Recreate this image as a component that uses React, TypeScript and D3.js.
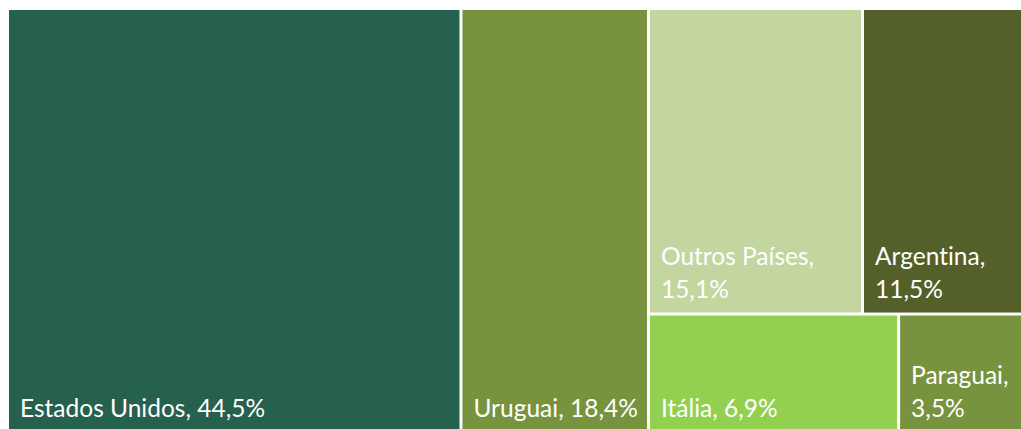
import React, { useMemo } from "react";
import * as d3 from "d3";

// ---- Data ----
const countries = ["Estados Unidos", "Uruguai", "Outros Países", "Argentina", "Itália", "Paraguai"];
const shares = [44.5, 18.4, 15.1, 11.5, 6.9, 3.5];
// Layout grouping (indices into countries): columns, the last column split into rows
const layoutGroups: number[][][] = [[[0]], [[1]], [[2, 3], [4, 5]]];

// ---- Styles ----
const palette = ["#26614E", "#78933D", "#C4D69F", "#53602A", "#92D050", "#78933D"];
const W = 1021;
const H = 429;
const OX = 9;
const OY = 10;
const TW = 1015;
const TH = 422;
const FONT = "Lato, 'Open Sans', sans-serif";
const FONT_SIZE = 24.5;
const LINE_H = 33;
const PAD_X = 11;
const PAD_B = 15;

type Node = { name?: string; idx?: number; value?: number; children?: Node[] };

function fmt(v: number) {
  return v.toFixed(1).replace(".", ",") + "%";
}

let ctx: CanvasRenderingContext2D | null = null;
function measure(t: string) {
  if (!ctx) ctx = document.createElement("canvas").getContext("2d");
  if (!ctx) return t.length * FONT_SIZE * 0.5;
  ctx.font = `${FONT_SIZE}px Lato`;
  return ctx.measureText(t).width;
}

export default function App() {
  const leaves = useMemo(() => {
    const data: Node = {
      children: layoutGroups.map((col) => {
        if (col.length === 1 && col[0].length === 1) {
          const i = col[0][0];
          return { name: countries[i], idx: i, value: shares[i] };
        }
        return {
          children: col.map((row) => ({
            children: row.map((i) => ({ name: countries[i], idx: i, value: shares[i] })),
          })),
        };
      }),
    };
    const root = d3
      .hierarchy<Node>(data)
      .sum((d) => (d.children ? 0 : d.value || 0));
    d3
      .treemap<Node>()
      .tile(d3.treemapSliceDice)
      .size([TW, TH])
      .paddingInner(3)
      .round(false)(root);
    return root.leaves() as d3.HierarchyRectangularNode<Node>[];
  }, []);

  return (
    <svg
      width={W}
      height={H}
      style={{ position: "absolute", left: 0, top: 0, display: "block", background: "#fff" }}
    >
      <g transform={`translate(${OX},${OY})`}>
        {leaves.map((l) => {
          const i = l.data.idx as number;
          const full = `${countries[i]}, ${fmt(shares[i])}`;
          const avail = l.x1 - l.x0 - PAD_X - 4;
          const lines = measure(full) <= avail ? [full] : [`${countries[i]},`, fmt(shares[i])];
          const baseY = l.y1 - PAD_B - (lines.length - 1) * LINE_H;
          return (
            <g key={i}>
              <rect x={l.x0} y={l.y0} width={l.x1 - l.x0} height={l.y1 - l.y0} fill={palette[i]} />
              <text
                x={l.x0 + PAD_X}
                y={baseY}
                fill="#fff"
                fontFamily={FONT}
                fontSize={FONT_SIZE}
                style={{ fontVariantLigatures: "none" }}
              >
                {lines.map((t, k) => (
                  <tspan key={k} x={l.x0 + PAD_X} y={baseY + k * LINE_H}>
                    {t}
                  </tspan>
                ))}
              </text>
            </g>
          );
        })}
      </g>
    </svg>
  );
}
